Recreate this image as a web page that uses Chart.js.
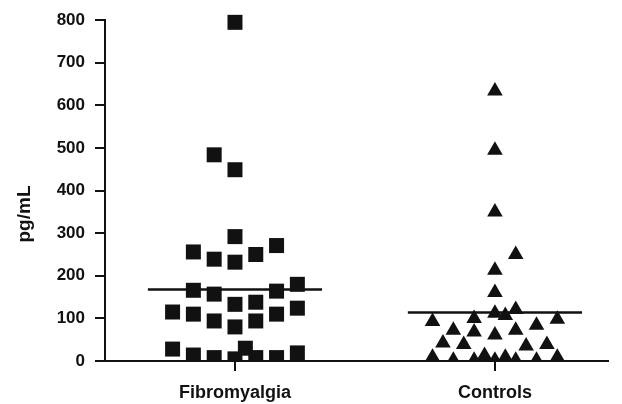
<!DOCTYPE html>
<html>
<head>
    <title>pg/mL by group</title>
    <script src="https://cdn.jsdelivr.net/npm/chart.js"></script>
    <style>
        body { margin: 0; background: #fff; }
        #wrap { width: 622px; height: 404px; }
    </style>
</head>
<body>
    <div id="wrap"><canvas id="dotChart"></canvas></div>

    <script>
        const groups = ['Fibromyalgia', 'Controls'];
        const yTicks = [0, 100, 200, 300, 400, 500, 600, 700, 800];
        const yTitle = 'pg/mL';

        // values, with the sideways spread of each dot (in column units)
        const fibroValues = [795, 484, 449, 292, 256, 239, 232, 250, 271, 166, 157, 164, 180, 115, 110,
                             133, 138, 110, 124, 94, 80, 94, 28, 14, 8, 5, 30, 8, 8, 19];
        const fibroSpread = [0, -0.08, 0, 0, -0.16, -0.08, 0, 0.08, 0.16, -0.16, -0.08, 0.16, 0.24, -0.24, -0.16,
                             0, 0.08, 0.16, 0.24, -0.08, 0, 0.08, -0.24, -0.16, -0.08, 0, 0.04, 0.08, 0.16, 0.24];
        const controlValues = [634, 495, 350, 250, 213, 161, 112, 107, 121, 93, 100, 98, 84, 72, 68,
                               72, 61, 42, 39, 35, 39, 9, 2, 2, 13, 2, 9, 2, 2, 9];
        const controlSpread = [0, 0, 0, 0.08, 0, 0, 0, 0.04, 0.08, -0.24, -0.08, 0.24, 0.16, -0.16, -0.08,
                               0.08, 0, -0.2, -0.12, 0.12, 0.2, -0.24, -0.16, -0.08, -0.04, 0, 0.04, 0.08, 0.16, 0.24];
        const groupMeans = [168, 114];

        const ink = '#111';
        const fontFamily = '"Liberation Sans", Arial, Helvetica, sans-serif';

        function dots(values, spread, col) {
            return values.map((v, i) => ({ x: col + spread[i], y: v }));
        }
        function meanLine(col) {
            return [{ x: col - 0.335, y: groupMeans[col - 1] }, { x: col + 0.335, y: groupMeans[col - 1] }];
        }

        // y title drawn by hand so it can sit a bit below the middle, as in the original
        const yTitlePlugin = {
            id: 'yTitle',
            afterDraw(chart) {
                const c = chart.ctx;
                c.save();
                c.translate(25, 214);
                c.rotate(-Math.PI / 2);
                c.fillStyle = ink;
                c.font = 'bold 19px ' + fontFamily;
                c.textAlign = 'center';
                c.textBaseline = 'middle';
                c.fillText(yTitle, 0, 0);
                c.restore();
            }
        };

        const ctx = document.getElementById('dotChart').getContext('2d');
        new Chart(ctx, {
            type: 'scatter',
            data: {
                datasets: [
                    {
                        label: groups[0],
                        data: dots(fibroValues, fibroSpread, 1),
                        pointStyle: 'rect',
                        pointRadius: 10.6,
                        backgroundColor: ink,
                        borderWidth: 0,
                        clip: { left: false, top: false, right: false, bottom: 0 }
                    },
                    {
                        label: groups[1],
                        data: dots(controlValues, controlSpread, 2),
                        pointStyle: 'triangle',
                        pointRadius: 9,
                        backgroundColor: ink,
                        borderWidth: 0,
                        clip: { left: false, top: false, right: false, bottom: 0 }
                    },
                    {
                        type: 'line',
                        data: meanLine(1),
                        borderColor: ink,
                        borderWidth: 2.5,
                        pointRadius: 0
                    },
                    {
                        type: 'line',
                        data: meanLine(2),
                        borderColor: ink,
                        borderWidth: 2.5,
                        pointRadius: 0
                    }
                ]
            },
            plugins: [yTitlePlugin],
            options: {
                responsive: true,
                maintainAspectRatio: false,
                animation: false,
                layout: { padding: { top: 19, right: 14, left: 0, bottom: 0 } },
                plugins: {
                    legend: { display: false },
                    tooltip: { enabled: false }
                },
                scales: {
                    x: {
                        type: 'linear',
                        min: 0.5,
                        max: 2.435,
                        afterBuildTicks: (scale) => {
                            scale.ticks = groups.map((g, i) => ({ value: i + 1 }));
                        },
                        afterFit: (scale) => { scale.height = 43; },
                        ticks: {
                            callback: (value) => groups[value - 1],
                            color: ink,
                            padding: 11,
                            maxRotation: 0,
                            font: { family: fontFamily, size: 18, weight: 'bold' }
                        },
                        grid: { drawOnChartArea: false, drawTicks: true, tickLength: 10, color: ink, lineWidth: 2 },
                        border: { display: true, color: ink, width: 2 }
                    },
                    y: {
                        min: 0,
                        max: 800,
                        afterBuildTicks: (scale) => {
                            scale.ticks = yTicks.map(v => ({ value: v }));
                        },
                        afterFit: (scale) => { scale.width = 105; },
                        ticks: {
                            color: ink,
                            padding: 10,
                            font: { family: fontFamily, size: 17, weight: 'bold' }
                        },
                        grid: { drawOnChartArea: false, drawTicks: true, tickLength: 10, color: ink, lineWidth: 2 },
                        border: { display: true, color: ink, width: 2 }
                    }
                }
            }
        });
    </script>
</body>
</html>
